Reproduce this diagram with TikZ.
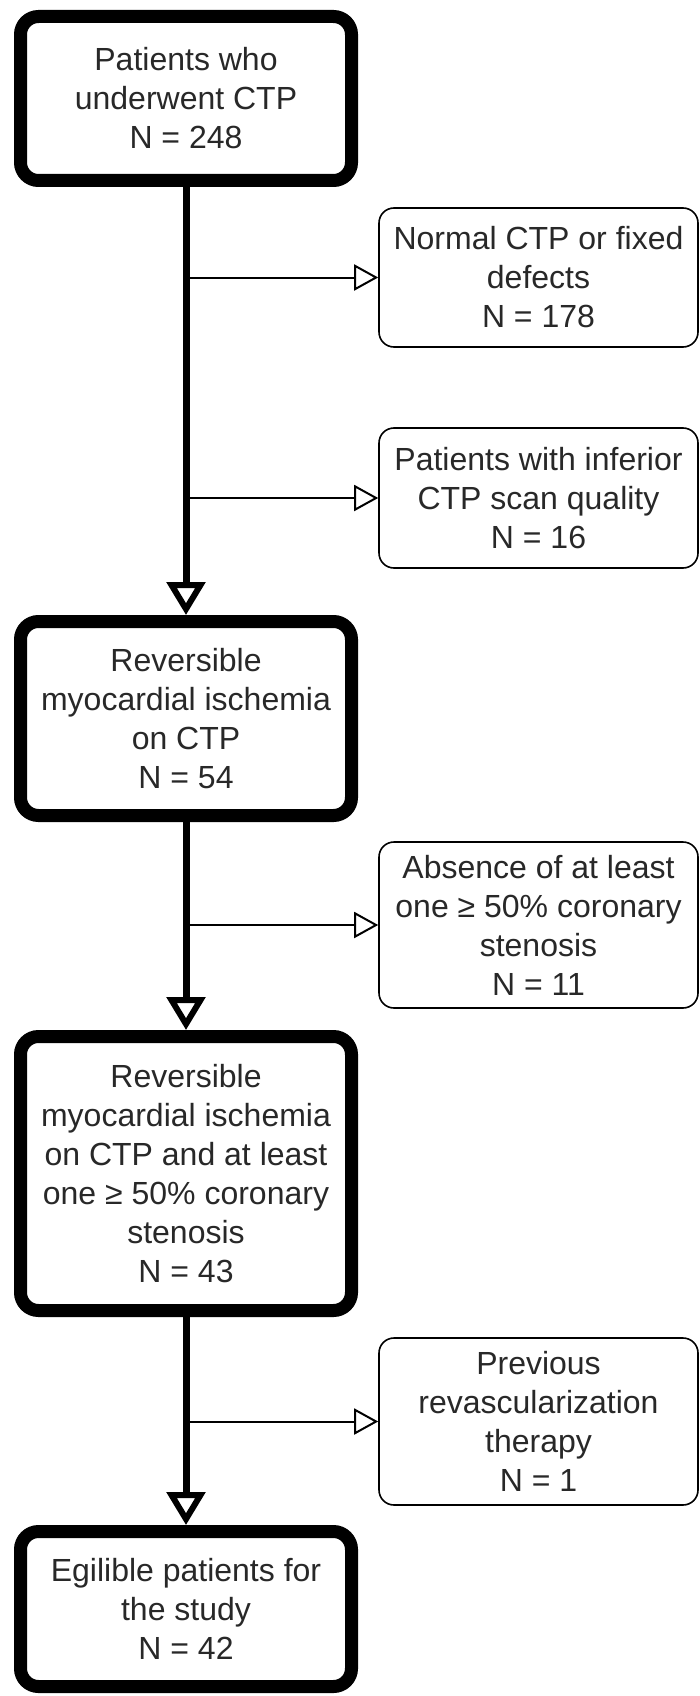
\documentclass[tikz,border=0pt]{standalone}
\usepackage{fontspec}
\setmainfont{Liberation Sans}
\usetikzlibrary{arrows.meta}
\definecolor{txtgray}{RGB}{40,40,40}
\begin{document}
\begin{tikzpicture}[x=1pt,y=-1pt,
  txt/.style={align=center, text=txtgray, font=\fontsize{32}{39}\selectfont, inner sep=0pt},
  bigbox/.style={txt, draw=black, fill=white, line width=13pt, rounded corners=18pt, minimum width=331pt},
  sidebox/.style={txt, draw=black, fill=white, line width=1.6pt, rounded corners=15pt, minimum width=319pt},
  mainarrow/.style={draw=black, line width=7pt, -{Triangle[open, length=33pt, width=38pt, line width=6pt]}},
  sidearrow/.style={draw=black, line width=2pt, -{Triangle[open, length=24pt, width=26pt, line width=2pt]}}]
\fill[white] (0,0) rectangle (700,1696);
\useasboundingbox (0,0) rectangle (700,1696);

\node[bigbox, minimum height=164pt] (b1) at (186,98.5) {Patients who\\underwent CTP\\N = 248};
\node[sidebox, minimum height=139pt] (r1) at (538.5,277.5) {Normal CTP or fixed\\defects\\N = 178};
\node[sidebox, minimum height=140pt] (r2) at (538.5,498) {Patients with inferior\\CTP scan quality\\N = 16};
\node[bigbox, minimum height=194pt] (b2) at (186,718.5) {Reversible\\myocardial ischemia\\on CTP\\N = 54};
\node[sidebox, minimum height=166pt] (r3) at (538.5,925) {Absence of at least\\one ≥ 50\% coronary\\stenosis\\N = 11};
\node[bigbox, minimum height=274pt] (b3) at (186,1173.5) {Reversible\\myocardial ischemia\\on CTP and at least\\one ≥ 50\% coronary\\stenosis\\N = 43};
\node[sidebox, minimum height=167pt] (r4) at (538.5,1421.5) {Previous\\revascularization\\therapy\\N = 1};
\node[bigbox, minimum height=155pt] (b4) at (186,1609) {Egilible patients for\\the study\\N = 42};

\coordinate (j1) at (b1.south |- r1.west);
\coordinate (j2) at (b1.south |- r2.west);
\coordinate (j3) at (b2.south |- r3.west);
\coordinate (j4) at (b3.south |- r4.west);

\draw[sidearrow] (j1) -- (r1.west);
\draw[sidearrow] (j2) -- (r2.west);
\draw[sidearrow] (j3) -- (r3.west);
\draw[sidearrow] (j4) -- (r4.west);

\draw[mainarrow] (b1.south) -- (b2.north);
\draw[mainarrow] (b2.south) -- (b3.north);
\draw[mainarrow] (b3.south) -- (b4.north);
\end{tikzpicture}
\end{document}
